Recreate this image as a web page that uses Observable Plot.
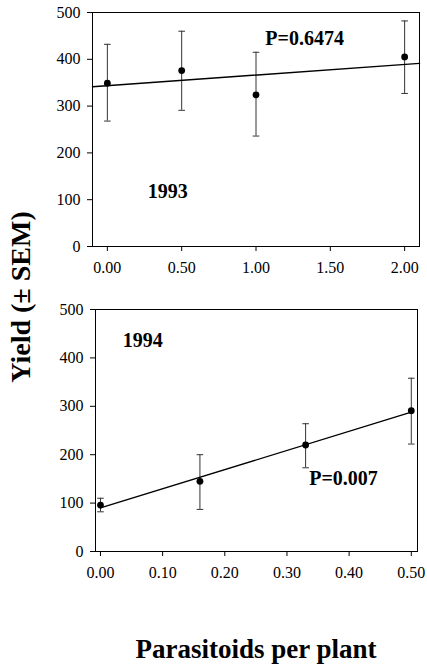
<!DOCTYPE html>
<html>
<head>
<meta charset="utf-8">
<script src="https://cdn.jsdelivr.net/npm/d3@7"></script>
<script src="https://cdn.jsdelivr.net/npm/@observablehq/plot@0.6"></script>
<style>
  html, body { margin: 0; padding: 0; background: white; }
  #chart, #chart * { font-family: 'Liberation Serif', 'Times New Roman', serif !important; }
  #chart { position: relative; width: 427px; height: 665px; background: white; color: black; }
  #chart svg { position: absolute; left: 0; display: block; z-index: 0; }
  .ytitle { position: absolute; z-index: 2; left: 21px; top: 297px; transform: translate(-50%, -50%) rotate(-90deg); font-weight: bold; font-size: 28px; white-space: nowrap; line-height: 1; }
  .xtitle { position: absolute; z-index: 2; left: 256px; top: 636px; transform: translateX(-50%); font-weight: bold; font-size: 27px; white-space: nowrap; line-height: 1; }
</style>
</head>
<body>
<div id="chart">
  <div class="ytitle" style="font-family: 'Liberation Serif', serif;">Yield (&#177; SEM)</div>
  <div class="xtitle" style="font-family: 'Liberation Serif', serif;">Parasitoids per plant</div>
</div>
<script>
// 1993 panel
const x93 = [0, 0.5, 1, 2];
const y93 = [349, 376, 324, 405];
const hi93 = [432, 460, 415, 482];
const lo93 = [268, 291, 236, 327];
const xTicks93 = [0, 0.5, 1, 1.5, 2];
const label93 = "1993";
const p93 = "P=0.6474";

// 1994 panel
const x94 = [0, 0.16, 0.33, 0.5];
const y94 = [96, 145, 220, 291];
const hi94 = [110, 200, 264, 358];
const lo94 = [82, 87, 173, 222];
const xTicks94 = [0, 0.1, 0.2, 0.3, 0.4, 0.5];
const label94 = "1994";
const p94 = "P=0.007";

const yTicks = [0, 100, 200, 300, 400, 500];

const serif = "Liberation Serif";

function rows(xs, ys, his, los) {
  return xs.map((x, i) => ({x, y: ys[i], hi: his[i], lo: los[i]}));
}
function fit(xs, ys) {
  const mx = d3.mean(xs), my = d3.mean(ys);
  const sxy = d3.sum(xs, (x, i) => (x - mx) * (ys[i] - my));
  const sxx = d3.sum(xs, x => (x - mx) ** 2);
  const b = sxy / sxx, a = my - b * mx;
  return x => a + b * x;
}
const capSymbol = {
  draw(ctx, size) {
    const w = Math.sqrt(size / Math.PI);
    ctx.moveTo(-w, 0);
    ctx.lineTo(w, 0);
  }
};

function panel({data, xDomain, xTicks, lineXs, f, labels, height, marginTop, marginBottom, marginLeft, marginRight}) {
  const lineData = lineXs.map(x => ({x, y: f(x)}));
  return Plot.plot({
    width: 427,
    height,
    marginTop, marginBottom, marginLeft, marginRight,
    style: {fontFamily: serif, fontSize: "16px", color: "black", background: "white", overflow: "visible"},
    x: {domain: xDomain},
    y: {domain: [0, 500]},
    marks: [
      Plot.frame({stroke: "black", strokeWidth: 1}),
      Plot.axisX({ticks: xTicks, tickFormat: d3.format(".2f"), tickSize: 5, tickPadding: 10, label: null, fontSize: 16, fontFamily: serif}),
      Plot.axisY({ticks: yTicks, tickSize: 5, tickPadding: 7, label: null, fontSize: 16, fontFamily: serif}),
      Plot.ruleX(data, {x: "x", y1: "lo", y2: "hi", stroke: "#333", strokeWidth: 1}),
      Plot.dot(data, {x: "x", y: "hi", symbol: capSymbol, r: 3.3, stroke: "#333", strokeWidth: 1, fill: "none"}),
      Plot.dot(data, {x: "x", y: "lo", symbol: capSymbol, r: 3.3, stroke: "#333", strokeWidth: 1, fill: "none"}),
      Plot.line(lineData, {x: "x", y: "y", stroke: "black", strokeWidth: 1.4}),
      Plot.dot(data, {x: "x", y: "y", r: 3.4, fill: "black", stroke: "none"}),
      Plot.text(labels, {x: "x", y: "y", text: "text", fontSize: 20, fontWeight: "bold", fontFamily: serif, fill: "black", textAnchor: "middle"})
    ]
  });
}

const chart = document.getElementById("chart");

const xDom93 = [-0.1, 2.1];
const svg1 = panel({
  data: rows(x93, y93, hi93, lo93),
  xDomain: xDom93,
  xTicks: xTicks93,
  lineXs: xDom93,
  f: fit(x93, y93),
  labels: [{x: 1.327, y: 444, text: p93}, {x: 0.406, y: 117, text: label93}],
  height: 282, marginTop: 12, marginBottom: 36, marginLeft: 92, marginRight: 8
});
svg1.style.top = "0px";
chart.insertBefore(svg1, chart.firstChild);

const svg2 = panel({
  data: rows(x94, y94, hi94, lo94),
  xDomain: [-0.008, 0.51],
  xTicks: xTicks94,
  lineXs: d3.extent(x94),
  f: fit(x94, y94),
  labels: [{x: 0.068, y: 436, text: label94}, {x: 0.391, y: 150, text: p94}],
  height: 305, marginTop: 27, marginBottom: 36, marginLeft: 95, marginRight: 10
});
svg2.style.top = "282px";
chart.insertBefore(svg2, svg1.nextSibling);
</script>
</body>
</html>
